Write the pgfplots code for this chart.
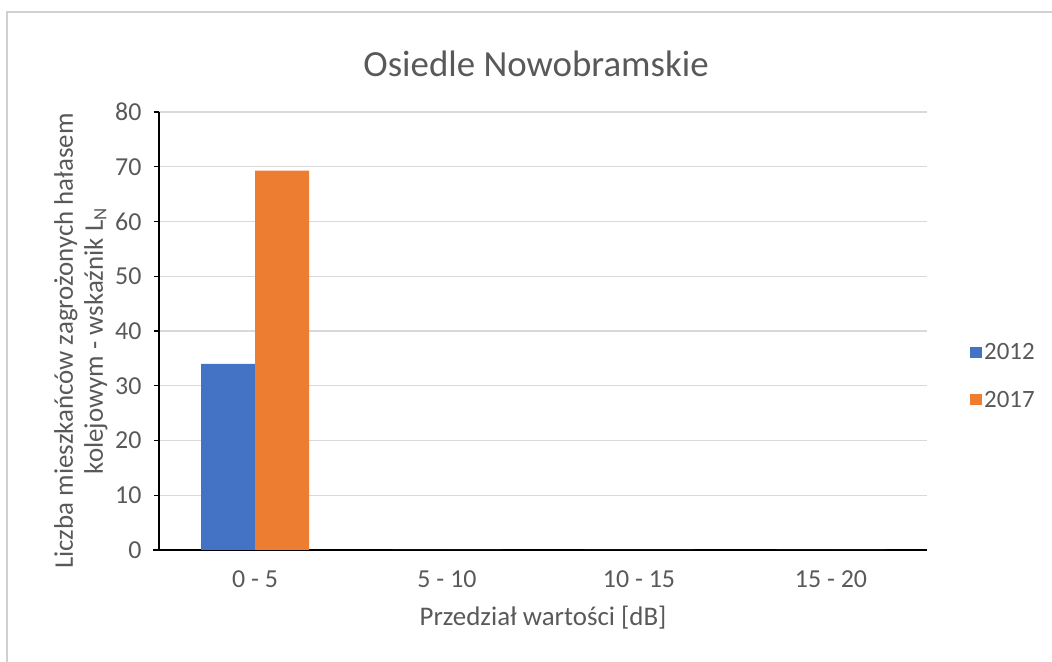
\documentclass[border=0pt]{standalone}
\usepackage{pgfplots}
\pgfplotsset{compat=1.18}
\usepackage{fontspec}
\setmainfont{Carlito}
\definecolor{cblue}{HTML}{4472C4}
\definecolor{corange}{HTML}{ED7D31}
\definecolor{ctext}{HTML}{595959}
\definecolor{cgrid}{HTML}{D9D9D9}
\definecolor{cframe}{HTML}{D0D0D0}
\begin{document}
\begin{tikzpicture}[x=1bp,y=1bp]
\path[use as bounding box] (0,0) rectangle (1052,662);
\draw[cframe, line width=2bp] (7,-5) -- (7,650) -- (1060,650);
\begin{axis}[
  at={(159bp,112bp)}, anchor=south west,
  width=768bp, height=438bp, scale only axis,
  ybar=0pt, bar width=54bp,
  xmin=-0.5, xmax=3.5, ymin=0, ymax=80,
  enlarge x limits=false, enlarge y limits=false,
  xtick=data, xticklabels={0 - 5, 5 - 10, 10 - 15, 15 - 20},
  ytick={0,10,...,80},
  axis x line*=bottom, axis y line*=left,
  axis line style={black, line width=1.3bp},
  x axis line style={-, shorten <=-6bp}, y axis line style={-},
  tick align=outside, major tick length=5bp,
  ytick style={black, line width=1.3bp},
  xtick style={draw=none},
  ymajorgrids, grid style={cgrid, line width=1.3bp},
  /pgf/number format/assume math mode=true,
  tick label style={font=\fontsize{26}{30}\selectfont, text=ctext},
  yticklabel style={xshift=-9bp},
  xticklabel style={yshift=-12bp},
  xlabel={Przedział wartości [dB]},
  xlabel style={font=\fontsize{27}{30}\selectfont, text=ctext, yshift=-12bp},
  ylabel={Liczba mieszkańców zagrożonych hałasem\\kolejowym - wskaźnik L\textsubscript{N}},
  ylabel style={font=\fontsize{27}{30}\selectfont, text=ctext, align=center, yshift=1bp,
    at={(ticklabel cs:0.477)}},
  title={Osiedle Nowobramskie},
  title style={font=\fontsize{37}{42}\selectfont, text=ctext, yshift=26bp, xshift=-7bp},
  legend style={at={(1.056,0.397)}, anchor=west, draw=none, fill=none,
    font=\fontsize{25}{28}\selectfont, text=ctext, row sep=26bp,
    inner sep=0pt,
    /tikz/every even column/.append style={column sep=0bp}},
  legend cell align=left,
  legend image code/.code={\fill[#1] (0bp,-5.5bp) rectangle (12bp,5.5bp);},
]
\addplot[fill=cblue, draw=none] coordinates {(0,34) (1,0) (2,0) (3,0)};
\addplot[fill=corange, draw=none] coordinates {(0,69.3) (1,0) (2,0) (3,0)};
\legend{2012,2017}
\end{axis}
\end{tikzpicture}
\end{document}
